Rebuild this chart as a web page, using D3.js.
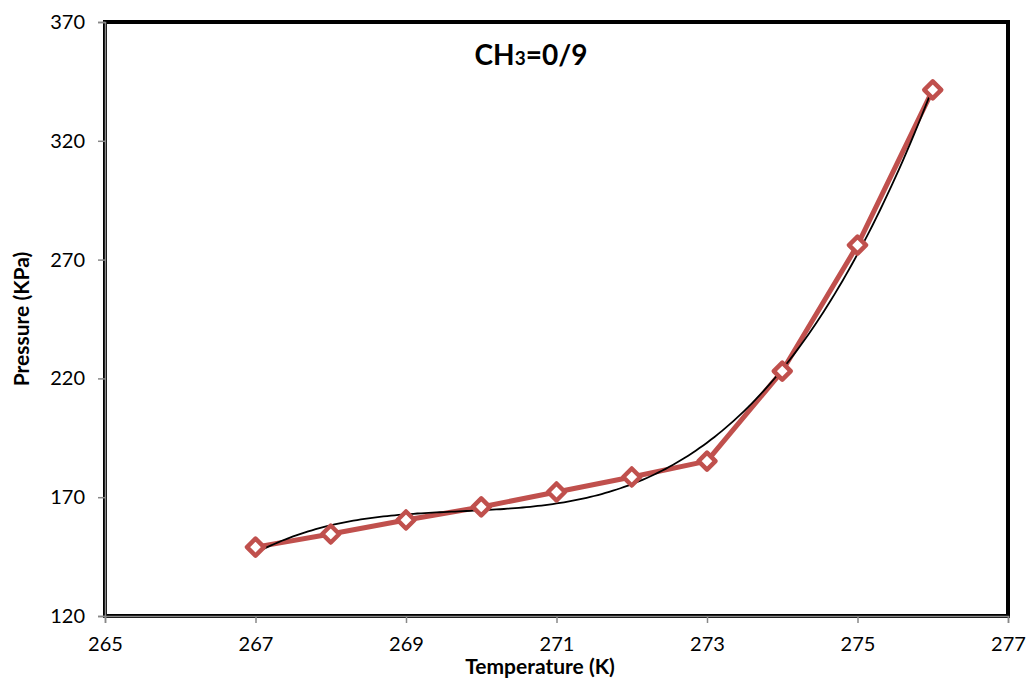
<!DOCTYPE html>
<html>
<head>
<style>
  body { margin: 0; background: #fff; overflow: hidden; }
  text { font-family: Lato, "Open Sans", sans-serif; fill: #000; }
  .tick text { font-size: 20px; }
  .axis-title { font-size: 21px; font-weight: bold; }
  .title { font-size: 28px; font-weight: bold; }
</style>
<script src="https://d3js.org/d3.v7.min.js"></script>
</head>
<body>
<svg width="1029" height="679"></svg>
<script>
// data
var temps = [267, 268, 269, 270, 271, 272, 273, 274, 275, 276];
var pressures = [149.0, 154.5, 160.4, 165.9, 172.2, 178.5, 185.2, 223.1, 276.1, 341.4];
var xTicks = [265, 267, 269, 271, 273, 275, 277];
var yTicks = [120, 170, 220, 270, 320, 370];

var svg = d3.select("svg");
var plotL = 105, plotR = 1008, plotT = 22, plotB = 616;

var x = d3.scaleLinear().domain([265, 277]).range([plotL, plotR]);
var y = d3.scaleLinear().domain([120, 370]).range([plotB, plotT]);

// polynomial trendline (least squares, 3rd order)
function polyfit(xs, ys, deg) {
  var n = deg + 1, A = [], i, j, k;
  var x0 = d3.mean(xs);
  for (i = 0; i < n; i++) {
    A.push([]);
    for (j = 0; j <= n; j++) A[i].push(0);
  }
  xs.forEach(function (xv, p) {
    var t = xv - x0;
    for (i = 0; i < n; i++) {
      for (j = 0; j < n; j++) A[i][j] += Math.pow(t, i + j);
      A[i][n] += Math.pow(t, i) * ys[p];
    }
  });
  for (i = 0; i < n; i++) {
    var m = i;
    for (k = i + 1; k < n; k++) if (Math.abs(A[k][i]) > Math.abs(A[m][i])) m = k;
    var tmp = A[i]; A[i] = A[m]; A[m] = tmp;
    for (k = i + 1; k < n; k++) {
      var f = A[k][i] / A[i][i];
      for (j = i; j <= n; j++) A[k][j] -= f * A[i][j];
    }
  }
  var c = new Array(n);
  for (i = n - 1; i >= 0; i--) {
    var s = A[i][n];
    for (j = i + 1; j < n; j++) s -= A[i][j] * c[j];
    c[i] = s / A[i][i];
  }
  return function (xv) {
    var t = xv - x0, r = 0;
    for (var q = 0; q < n; q++) r += c[q] * Math.pow(t, q);
    return r;
  };
}
var fit = polyfit(temps, pressures, 3);
var trend = d3.range(267, 276.001, 0.05).map(function (t) { return [t, fit(t)]; });

// plot border
svg.append("rect")
  .attr("x", plotL).attr("y", plotT)
  .attr("width", plotR - plotL).attr("height", plotB - plotT)
  .attr("fill", "none").attr("stroke", "#000").attr("stroke-width", 4);

// axes
var xAxis = svg.append("g")
  .attr("transform", "translate(0," + plotB + ")")
  .call(d3.axisBottom(x).tickValues(xTicks).tickSize(7).tickPadding(14).tickFormat(d3.format("d")));
var yAxis = svg.append("g")
  .attr("transform", "translate(" + plotL + ",0)")
  .call(d3.axisLeft(y).tickValues(yTicks).tickSize(7).tickPadding(13).tickFormat(d3.format("d")));
[xAxis, yAxis].forEach(function (a) {
  a.select(".domain").attr("stroke", "#888").attr("stroke-width", 1.5);
  a.selectAll(".tick line").attr("stroke", "#888").attr("stroke-width", 1.5);
  a.selectAll(".tick text").attr("fill", "#000");
});
xAxis.selectAll(".tick text").attr("dy", "0.72em");

// series line
svg.append("path")
  .datum(d3.zip(temps, pressures))
  .attr("fill", "none")
  .attr("stroke", "#C0504D")
  .attr("stroke-width", 5)
  .attr("stroke-linejoin", "round")
  .attr("d", d3.line().x(function (d) { return x(d[0]); }).y(function (d) { return y(d[1]); }));

// trendline
svg.append("path")
  .datum(trend)
  .attr("fill", "none")
  .attr("stroke", "#000")
  .attr("stroke-width", 1.8)
  .attr("d", d3.line().x(function (d) { return x(d[0]); }).y(function (d) { return y(d[1]); }));

// diamond markers
svg.selectAll(".marker")
  .data(d3.zip(temps, pressures))
  .enter().append("path")
  .attr("class", "marker")
  .attr("transform", function (d) { return "translate(" + x(d[0]) + "," + y(d[1]) + ")"; })
  .attr("d", "M0,-8.5L8.5,0L0,8.5L-8.5,0Z")
  .attr("fill", "#fff")
  .attr("stroke", "#C0504D")
  .attr("stroke-width", 4.5)
  .attr("stroke-linejoin", "round");

// titles
var title = svg.append("text").attr("class", "title")
  .attr("x", 531).attr("y", 65).attr("text-anchor", "middle");
title.append("tspan").text("CH");
title.append("tspan").attr("font-size", "19px").text("3");
title.append("tspan").text("=0/9");

svg.append("text").attr("class", "axis-title")
  .attr("x", 540).attr("y", 674).attr("text-anchor", "middle")
  .text("Temperature (K)");
svg.append("text").attr("class", "axis-title")
  .attr("transform", "translate(29,319) rotate(-90)")
  .attr("text-anchor", "middle")
  .text("Pressure (KPa)");
</script>
</body>
</html>
